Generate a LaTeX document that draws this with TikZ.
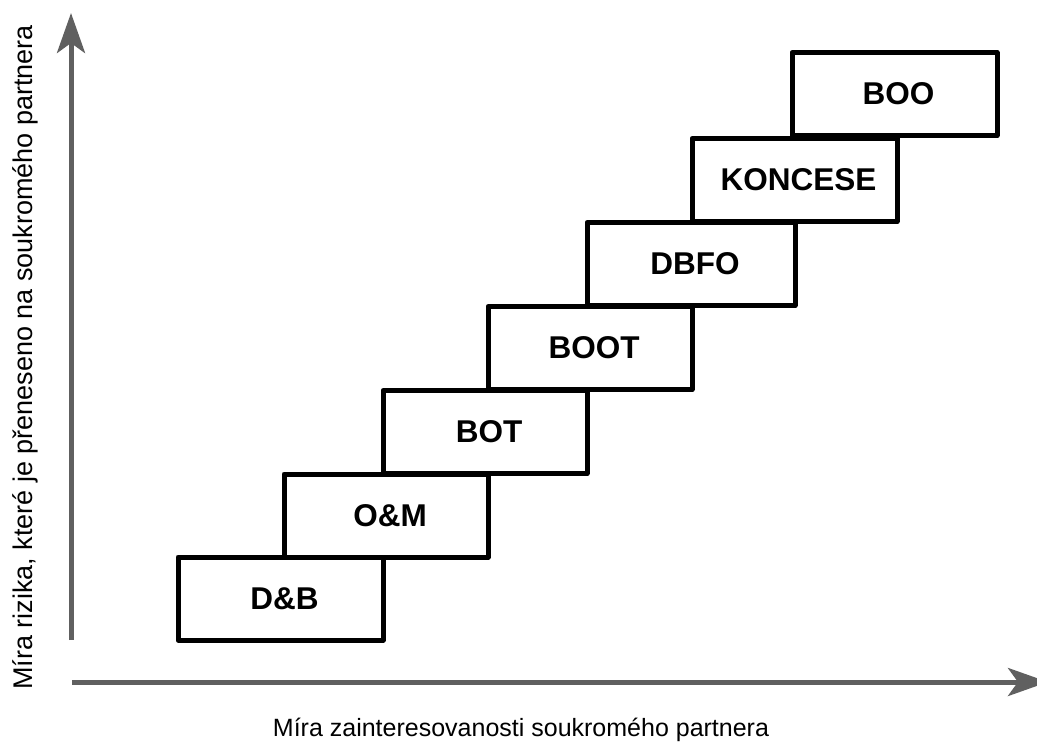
\documentclass[tikz,border=0pt]{standalone}
\usepackage{fontspec}
\setmainfont{Liberation Sans}
\usetikzlibrary{arrows.meta}
\definecolor{axisgray}{HTML}{606060}
\tikzset{
  stepbox/.style={draw=black, line width=5pt, line join=round, minimum width=#1, minimum height=83pt, inner sep=0pt, fill=white},
  boxlabel/.style={font=\fontsize{31.5}{36}\selectfont\bfseries, inner sep=0pt},
  axis/.style={draw=axisgray, line width=5pt, -{Stealth[length=40pt, width=28pt, inset=10pt]}},
  axislabel/.style={font=\fontsize{25}{30}\selectfont, inner sep=0pt, anchor=base}
}
\begin{document}
\begin{tikzpicture}[x=1pt, y=-1pt]
\useasboundingbox (0,0) rectangle (1037,742);
% axes
\coordinate (yo) at (71,640);
\coordinate (yt) at (71,13);
\coordinate (xo) at (72,682);
\coordinate (xt) at (1048,682);
\draw[axis] (yo) -- (yt);
\draw[axis] (xo) -- (xt);
\node[axislabel, rotate=90] (ylab) at (32,357.5) {\fontsize{27}{30}\selectfont Míra rizika, které je přeneseno na soukromého partnera};
\node[axislabel] (xlab) at (521,736.5) {Míra zainteresovanosti soukromého partnera};
% boxes
\node[stepbox=205pt] (db)  at (280.5,598.5) {};
\node[stepbox=204pt] (om)  at (386,515.5) {};
\node[stepbox=204pt] (bot) at (485,432) {};
\node[stepbox=204pt] (boot) at (590,348) {};
\node[stepbox=208pt] (dbfo) at (691,264) {};
\node[stepbox=205pt] (kon) at (794.5,180) {};
\node[stepbox=205pt] (boo) at (894.5,94) {};
% labels
\node[boxlabel, xshift=4pt] (db-t) at (db) {D\&B};
\node[boxlabel, xshift=4pt] (om-t) at (om) {O\&M};
\node[boxlabel, xshift=4pt] (bot-t) at (bot) {BOT};
\node[boxlabel, xshift=4pt] (boot-t) at (boot) {BOOT};
\node[boxlabel, xshift=4pt] (dbfo-t) at (dbfo) {DBFO};
\node[boxlabel, xshift=4pt] (kon-t) at (kon) {KONCESE};
\node[boxlabel, xshift=4pt] (boo-t) at (boo) {BOO};
\end{tikzpicture}
\end{document}
